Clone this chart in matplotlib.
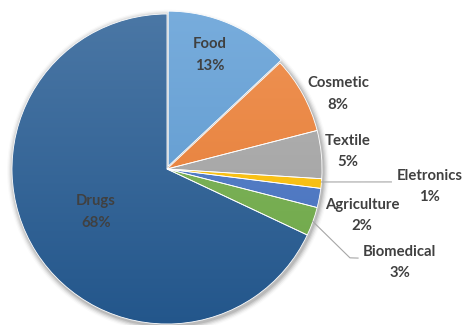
import numpy as np
import matplotlib.pyplot as plt
from matplotlib.colors import to_rgb

# slice data, clockwise from 12 o'clock
categories = ["Food", "Cosmetic", "Textile", "Eletronics", "Agriculture", "Biomedical", "Drugs"]
shares = [13, 8, 5, 1, 2, 3, 68]
colors = ["#5B9BD5", "#ED7D31", "#A5A5A5", "#FFC000", "#4472C4", "#70AD47", "#245A92"]
explode = [0.02, 0, 0, 0, 0, 0, 0]

# label placement: (radius, angle in degrees) relative to pie centre
label_pos = {
    "Food": (0.786, 69.3),
    "Cosmetic": (1.205, 23.7),
    "Textile": (1.173, 5.4),
    "Eletronics": (1.70, -3.9),
    "Agriculture": (1.293, -13.3),
    "Biomedical": (1.618, -21.8),
    "Drugs": (0.536, 211.2),
}
# leader lines for the small outside slices, as (radius, angle) points
leaders = {
    "Eletronics": [(1.0, -4.8), (1.45, -3.3)],
    "Biomedical": [(1.0, -19.8), (1.312, -25.9), (1.36, -25.0)],
}

XLIM = (-167 / 155, 298 / 155)
YLIM = (-156 / 155, 169 / 155)

fig = plt.figure(figsize=(4.65, 3.25), dpi=100)
ax = fig.add_axes([0, 0, 1, 1])
ax.axis("off")

# soft shadow under the pie
for i, a in enumerate(np.linspace(0.10, 0.02, 5)):
    sh = plt.Circle((0.008, -0.012), 1.0 + 0.008 * (i + 1), color="black", alpha=a, lw=0, zorder=0)
    ax.add_patch(sh)

wedges, _ = ax.pie(shares, colors=colors, startangle=90, counterclock=False,
                   explode=explode, radius=1.0,
                   wedgeprops=dict(edgecolor="white", linewidth=0.6))

# vertical light-to-dark gradient on each wedge
ys = np.linspace(1, 0, 256)[:, None]
for w, c in zip(wedges, colors):
    base = np.array(to_rgb(c))
    top = base + (1 - base) * 0.18
    bottom = base * 0.95
    grad = bottom + (top - bottom) * ys[..., None]
    grad = np.repeat(grad, 2, axis=1)
    im = ax.imshow(grad, extent=[-1.05, 1.05, -1.05, 1.05], aspect="auto",
                   zorder=w.get_zorder() + 0.1, interpolation="bilinear")
    im.set_clip_path(w)
    w.set_zorder(w.get_zorder() + 0.2)
    w.set_facecolor("none")

ax.set_xlim(*XLIM)
ax.set_ylim(*YLIM)
ax.set_aspect("auto")

total = sum(shares)
for name, val in zip(categories, shares):
    r, ang = label_pos[name]
    x, y = r * np.cos(np.radians(ang)), r * np.sin(np.radians(ang))
    ax.text(x, y, f"{name}\n{round(100 * val / total)}%", ha="center", va="center",
            fontsize=10.75, family="Lato", fontweight="bold", color="#404040",
            linespacing=1.65, zorder=10)

for name, pts in leaders.items():
    xs = [r * np.cos(np.radians(a)) for r, a in pts]
    ys_ = [r * np.sin(np.radians(a)) for r, a in pts]
    ax.plot(xs, ys_, color="#A6A6A6", lw=0.8, zorder=9)

fig.savefig("out.png", dpi=100)
